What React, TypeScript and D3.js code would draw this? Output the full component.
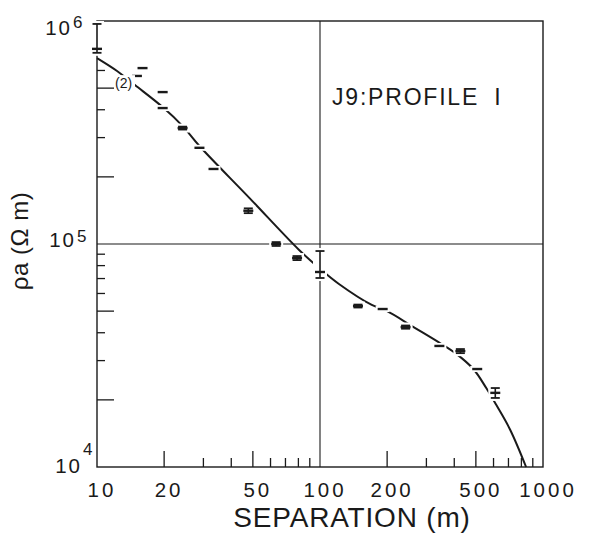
import React from "react";
import * as d3 from "d3";

const W = 589;
const H = 533;

// Measured apparent resistivity readings (separation in m, rho_a in ohm m)
const separation = [10, 15.1, 16.0, 19.7, 19.7, 24.2, 28.8, 33.3, 47.7, 63.6, 78.9, 100, 148, 191, 242, 343, 426, 507, 611];
const rhoA = [7.5e5, 5.67e5, 6.15e5, 4.8e5, 4.07e5, 3.31e5, 2.7e5, 2.17e5, 1.41e5, 1.0e5, 8.65e4, 7.49e4, 5.27e4, 5.11e4, 4.24e4, 3.49e4, 3.31e4, 2.75e4, 2.15e4];
const rhoLow = [7.2e5, 5.67e5, 6.15e5, 4.8e5, 4.07e5, 3.26e5, 2.7e5, 2.17e5, 1.375e5, 0.98e5, 8.47e4, 7.04e4, 5.19e4, 5.11e4, 4.17e4, 3.49e4, 3.24e4, 2.75e4, 2.04e4];
const rhoHigh = [9.7e5, 5.67e5, 6.15e5, 4.8e5, 4.07e5, 3.36e5, 2.7e5, 2.17e5, 1.445e5, 1.02e5, 8.83e4, 9.3e4, 5.35e4, 5.11e4, 4.31e4, 3.49e4, 3.38e4, 2.75e4, 2.26e4];

// Fitted model curve
const curveSeparation = [10, 12.3, 14.8, 19.7, 24.4, 28.8, 48.2, 80.6, 99, 121.6, 170.7, 199.1, 262.8, 339.9, 404.6, 487, 556.6, 616.9, 712.3, 840];
const curveRho = [6.82e5, 5.97e5, 5.16e5, 4.11e5, 3.35e5, 2.75e5, 1.61e5, 9.4e4, 7.81e4, 6.62e4, 5.33e4, 5.01e4, 4.24e4, 3.63e4, 3.24e4, 2.75e4, 2.26e4, 1.9e4, 1.47e4, 1.0e4];

const xTickValues = [10, 20, 50, 100, 200, 500, 1000];
const xTickLabels = ["10", "20", "50", "100", "200", "500", "1000"];
const yTickExponents = [4, 5, 6];
const annotationValue = 5e5;
const annotationText = "(2)";
const titleText = "J9:PROFILE I";
const xTitle = "SEPARATION (m)";
const yTitle = "ρa (Ω m)";

const FONT = "'Liberation Sans', Arial, sans-serif";
const INK = "#1a1a1a";

// per-label nudges for the hand-lettered decade labels
const yLabelNudge: Record<number, { dx: number; dy: number; sup: number }> = {
  4: { dx: -15, dy: 6, sup: -12 },
  5: { dx: -21, dy: 3, sup: -2 },
  6: { dx: -25, dy: 14, sup: 7 },
};

function mantissa(v: number) {
  const e = Math.floor(Math.log10(v) + 1e-9);
  return Math.round(v / Math.pow(10, e));
}

export default function App() {
  const x = d3.scaleLog().domain([10, 1000]).range([97, 543]);
  const y = d3.scaleLog().domain([1e4, 1e6]).range([467, 21]);
  const [x0, x1] = x.range();
  const [y1, y0] = y.range();

  const line = d3
    .line<[number, number]>()
    .x((d) => x(d[0]))
    .y((d) => y(d[1]))
    .curve(d3.curveCatmullRom.alpha(0.5));
  const curvePts = curveSeparation.map((s, i) => [s, curveRho[i]] as [number, number]);

  const xMinor = x.ticks().filter((v) => mantissa(v) !== 1);
  const yMinor = y.ticks().filter((v) => mantissa(v) !== 1 && v < 6.5e5);
  const isLong = (v: number) => mantissa(v) === 2 || mantissa(v) === 5;

  const points = separation.map((s, i) => ({
    px: x(s),
    py: y(rhoA[i]),
    lo: y(rhoLow[i]),
    hi: y(rhoHigh[i]),
    err: rhoHigh[i] !== rhoLow[i],
  }));

  return (
    <svg
      width={W}
      height={H}
      viewBox={`0 0 ${W} ${H}`}
      style={{ position: "absolute", left: 0, top: 0, background: "#fff" }}
    >
      <rect x={0} y={0} width={W} height={H} fill="#fff" />
      {/* frame */}
      <rect x={x0} y={y0} width={x1 - x0} height={y1 - y0} fill="none" stroke={INK} strokeWidth={1.4} />
      {/* grid at 100 m and 1e5 */}
      <line x1={x(100)} x2={x(100)} y1={y0} y2={y1} stroke={INK} strokeWidth={1.1} />
      <line x1={x0} x2={x1} y1={y(1e5)} y2={y(1e5)} stroke={INK} strokeWidth={1.1} />

      {/* bottom ticks (inward) */}
      {xMinor.map((v, i) => (
        <line key={"xt" + i} x1={x(v)} x2={x(v)} y1={y1} y2={y1 - (isLong(v) ? 16 : 9)} stroke={INK} strokeWidth={1.3} />
      ))}
      {/* left ticks (inward) */}
      {yMinor.map((v, i) => (
        <line key={"yt" + i} x1={x0} x2={x0 + (isLong(v) ? 17 : 8)} y1={y(v)} y2={y(v)} stroke={INK} strokeWidth={1.3} />
      ))}

      {/* model curve */}
      <path d={line(curvePts) || ""} fill="none" stroke={INK} strokeWidth={2} />

      {/* white halos around readings */}
      {points.map((p, i) => (
        <rect
          key={"h" + i}
          x={p.px - 7}
          y={Math.min(p.hi, p.py) - 3}
          width={14}
          height={Math.max(p.lo, p.py) - Math.min(p.hi, p.py) + 6}
          fill="#fff"
        />
      ))}

      {/* readings */}
      {points.map((p, i) => (
        <g key={"p" + i} stroke={INK}>
          {p.err && (
            <>
              <line x1={p.px} x2={p.px} y1={p.hi} y2={p.lo} strokeWidth={1.6} />
              <line x1={p.px - 4.5} x2={p.px + 4.5} y1={p.hi} y2={p.hi} strokeWidth={1.8} />
              <line x1={p.px - 4.5} x2={p.px + 4.5} y1={p.lo} y2={p.lo} strokeWidth={1.8} />
            </>
          )}
          <line x1={p.px - 5} x2={p.px + 5} y1={p.py} y2={p.py} strokeWidth={2.4} />
        </g>
      ))}

      {/* annotation "(2)" on the long 5e5 tick */}
      <rect x={x0 + 17} y={y(annotationValue) - 13} width={21} height={15} fill="#fff" />
      <text x={x0 + 18} y={y(annotationValue) + 0} fontFamily={FONT} fontSize={14} fill={INK}>
        {annotationText}
      </text>

      {/* title */}
      <text
        x={332}
        y={105}
        fontFamily={FONT}
        fontSize={23}
        letterSpacing={1.8}
        wordSpacing={7}
        fill={INK}
      >
        {titleText}
      </text>

      {/* x tick labels */}
      {xTickValues.map((v, i) => (
        <text
          key={"xl" + i}
          x={x(v) + 5}
          y={497}
          textAnchor="middle"
          fontFamily={FONT}
          fontSize={20.5}
          letterSpacing={3}
          fill={INK}
        >
          {xTickLabels[i]}
        </text>
      ))}

      {/* y tick labels: 10^n */}
      {yTickExponents.map((e) => {
        const n = yLabelNudge[e];
        const yy = y(Math.pow(10, e));
        return (
          <g key={"yl" + e} fontFamily={FONT} fill={INK}>
            <text x={x0 + n.dx} y={yy + n.dy} textAnchor="end" fontSize={20.5} letterSpacing={2}>
              10
            </text>
            <text x={x0 + n.dx + 1} y={yy + n.sup} fontSize={17}>
              {String(e)}
            </text>
          </g>
        );
      })}

      {/* axis titles */}
      <text
        x={352}
        y={527}
        textAnchor="middle"
        fontFamily={FONT}
        fontSize={28}
        letterSpacing={0.8}
        fill={INK}
      >
        {xTitle}
      </text>
      <text
        transform={`translate(28, 241) rotate(-90)`}
        textAnchor="middle"
        fontFamily={FONT}
        fontSize={24}
        letterSpacing={0.5}
        fill={INK}
      >
        {yTitle}
      </text>
    </svg>
  );
}
